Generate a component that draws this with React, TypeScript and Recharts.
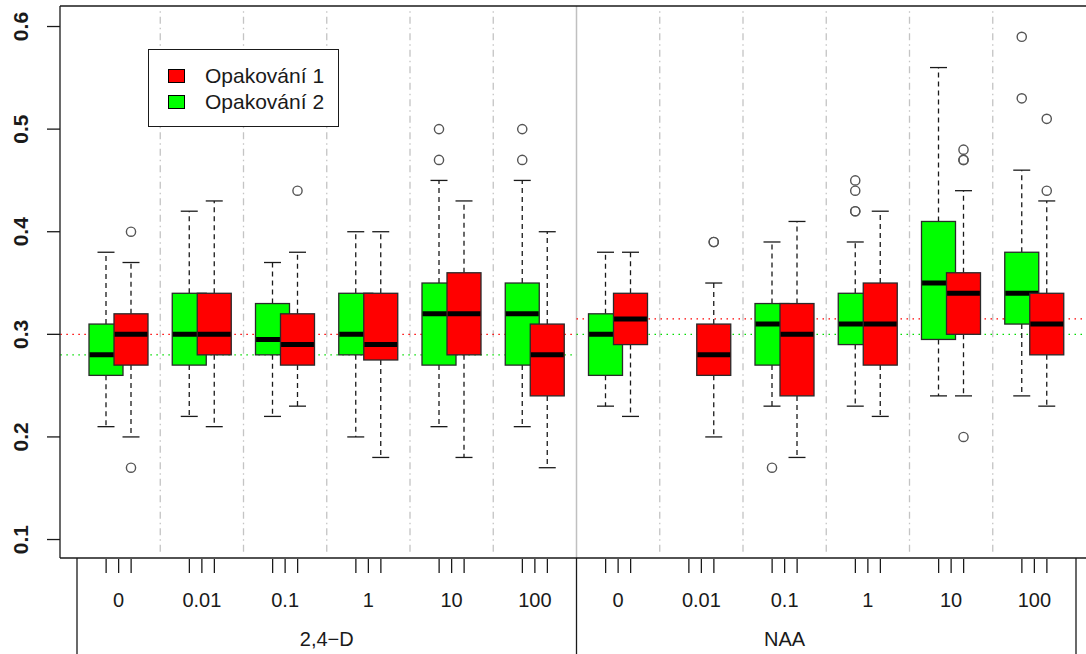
import { ComposedChart, Bar, XAxis, YAxis, ReferenceLine, Legend } from 'recharts'

const CONCENTRATIONS = ['0', '0.01', '0.1', '1', '10', '100']
const TREATMENTS = ['2,4−D', 'NAA']
const Y_TICKS = [0.1, 0.2, 0.3, 0.4, 0.5, 0.6]

// Opakování 2 (green), null = no measurements
const REP2_LOW = [0.21, 0.22, 0.22, 0.2, 0.21, 0.21, 0.23, null, 0.23, 0.23, 0.24, 0.24]
const REP2_Q1 = [0.26, 0.27, 0.28, 0.28, 0.27, 0.27, 0.26, null, 0.27, 0.29, 0.295, 0.31]
const REP2_MED = [0.28, 0.3, 0.295, 0.3, 0.32, 0.32, 0.3, null, 0.31, 0.31, 0.35, 0.34]
const REP2_Q3 = [0.31, 0.34, 0.33, 0.34, 0.35, 0.35, 0.32, null, 0.33, 0.34, 0.41, 0.38]
const REP2_HIGH = [0.38, 0.42, 0.37, 0.4, 0.45, 0.45, 0.38, null, 0.39, 0.39, 0.56, 0.46]
const REP2_OUT = [[], [], [], [], [0.5, 0.47], [0.5, 0.47], [], [], [0.17], [0.45, 0.44, 0.42, 0.42], [], [0.59, 0.53]]

// Opakování 1 (red)
const REP1_LOW = [0.2, 0.21, 0.23, 0.18, 0.18, 0.17, 0.22, 0.2, 0.18, 0.22, 0.24, 0.23]
const REP1_Q1 = [0.27, 0.28, 0.27, 0.275, 0.28, 0.24, 0.29, 0.26, 0.24, 0.27, 0.3, 0.28]
const REP1_MED = [0.3, 0.3, 0.29, 0.29, 0.32, 0.28, 0.315, 0.28, 0.3, 0.31, 0.34, 0.31]
const REP1_Q3 = [0.32, 0.34, 0.32, 0.34, 0.36, 0.31, 0.34, 0.31, 0.33, 0.35, 0.36, 0.34]
const REP1_HIGH = [0.37, 0.43, 0.38, 0.4, 0.43, 0.4, 0.38, 0.35, 0.41, 0.42, 0.44, 0.43]
const REP1_OUT = [[0.4, 0.17], [], [0.44], [], [], [], [], [0.39, 0.39], [], [], [0.48, 0.47, 0.47, 0.2], [0.51, 0.44]]

const LEGEND_NAMES = ['Opakování 1', 'Opakování 2']
const LEGEND_COLORS = ['#ff0000', '#00ff00']

type Stats = { low: number; q1: number; med: number; q3: number; high: number; out: number[] }

const pick = (low: any[], q1: any[], med: any[], q3: any[], high: any[], out: number[][], i: number): Stats | null =>
  low[i] == null ? null : { low: low[i], q1: q1[i], med: med[i], q3: q3[i], high: high[i], out: out[i] }

const rows = TREATMENTS.flatMap((t, ti) =>
  CONCENTRATIONS.map((c, ci) => {
    const i = ti * CONCENTRATIONS.length + ci
    return {
      id: `${t} ${c}`,
      pos: i + 0.5,
      rep2: pick(REP2_LOW, REP2_Q1, REP2_MED, REP2_Q3, REP2_HIGH, REP2_OUT, i),
      rep1: pick(REP1_LOW, REP1_Q1, REP1_MED, REP1_Q3, REP1_HIGH, REP1_OUT, i),
    }
  })
)

const extent = (s: Stats) => [Math.min(s.low, ...s.out), Math.max(s.high, ...s.out)]

// layout
const FONT = '"Liberation Sans", Arial, sans-serif'
const INK = '#1a1a1a'
const BAR_SIZE = 34
const BAR_GAP = -9
const SIDE = (BAR_SIZE + BAR_GAP) / 2
const Y_DOMAIN = [0.082, 0.62]
const DIVIDER_Y = [0.088, 0.616]
const GROUP_LABEL_POS = [3, 8.5]
const AXIS_H = 96
const N = rows.length
const PER = CONCENTRATIONS.length
const PAD = { left: 17, right: 10 }

function boxShape(key: 'rep1' | 'rep2', fill: string) {
  return (props: any) => {
    const s: Stats | null = props.payload?.[key]
    if (!s || !isFinite(props.y) || !isFinite(props.height)) return <g />
    const [lo, hi] = extent(s)
    const top = Math.min(props.y, props.y + props.height)
    const bottom = Math.max(props.y, props.y + props.height)
    const py = (v: number) => bottom - ((v - lo) / (hi - lo)) * (bottom - top)
    const x = props.x
    const w = props.width
    const cx = x + w / 2
    const cap = w / 4
    return (
      <g>
        <line x1={cx} x2={cx} y1={py(s.q3)} y2={py(s.high)} stroke={INK} strokeWidth={1.3} strokeDasharray="5 4" />
        <line x1={cx} x2={cx} y1={py(s.q1)} y2={py(s.low)} stroke={INK} strokeWidth={1.3} strokeDasharray="5 4" />
        <line x1={cx - cap} x2={cx + cap} y1={py(s.high)} y2={py(s.high)} stroke={INK} strokeWidth={1.3} />
        <line x1={cx - cap} x2={cx + cap} y1={py(s.low)} y2={py(s.low)} stroke={INK} strokeWidth={1.3} />
        <rect x={x} y={py(s.q3)} width={w} height={py(s.q1) - py(s.q3)} fill={fill} stroke="#2a2a2a" strokeWidth={1.3} />
        <line x1={x + 0.6} x2={x + w - 0.6} y1={py(s.med)} y2={py(s.med)} stroke="#000" strokeWidth={5} />
        {s.out.map((v, k) => (
          <circle key={k} cx={cx} cy={py(v)} r={4.6} fill="none" stroke="#555" strokeWidth={1.4} />
        ))}
      </g>
    )
  }
}

function YTick({ x, y, payload }: any) {
  const bx = x - 17
  return (
    <text x={bx} y={y} transform={`rotate(-90 ${bx} ${y})`} textAnchor="middle" fontSize={21} fontWeight="bold" fill={INK} fontFamily={FONT}>
      {Number(payload.value).toFixed(1)}
    </text>
  )
}

function BottomTick({ x, y, payload }: any) {
  const v = payload.value
  const parts: any[] = []
  if (v % PER === 0) {
    parts.push(<line key="sep" x1={x} x2={x} y1={y} y2={y + AXIS_H} stroke={INK} strokeWidth={1.3} />)
  }
  const idx = v - 0.5
  if (Number.isInteger(idx) && idx >= 0 && idx < N) {
    ;[-SIDE, 0, SIDE].forEach((d, k) =>
      parts.push(<line key={`t${k}`} x1={x + d} x2={x + d} y1={y + 1} y2={y + 15} stroke={INK} strokeWidth={1.3} />)
    )
    parts.push(
      <text key="lab" x={x} y={y + 49} textAnchor="middle" fontSize={20} fill={INK} fontFamily={FONT}>
        {CONCENTRATIONS[idx % PER]}
      </text>
    )
  }
  const g = GROUP_LABEL_POS.indexOf(v)
  if (g >= 0) {
    parts.push(
      <text key="grp" x={x} y={y + 88} textAnchor="middle" fontSize={20} fill={INK} fontFamily={FONT}>
        {TREATMENTS[g]}
      </text>
    )
  }
  return <g>{parts}</g>
}

function LegendBox() {
  return (
    <div style={{ position: 'relative', width: 189, height: 76, border: `1.3px solid ${INK}`, background: '#fff', fontFamily: FONT }}>
      {LEGEND_NAMES.map((name, i) => (
        <div key={name} style={{ position: 'absolute', left: 19, top: 13 + i * 26, height: 26, display: 'flex', alignItems: 'center' }}>
          <span style={{ display: 'inline-block', width: 15, height: 12, background: LEGEND_COLORS[i], border: '1px solid #000' }} />
          <span style={{ marginLeft: 20, fontSize: 21, color: INK, lineHeight: '26px', whiteSpace: 'nowrap' }}>{name}</span>
        </div>
      ))}
    </div>
  )
}

export default function App() {
  const bottomTicks = Array.from(
    new Set([...rows.map((r) => r.pos), ...TREATMENTS.map((_, t) => t * PER), N, ...GROUP_LABEL_POS])
  ).sort((a, b) => a - b)
  const dividers = rows.map((_, i) => i).filter((i) => i > 0 && i % PER !== 0)

  return (
    <div style={{ position: 'absolute', left: 0, top: 0, width: 1086, height: 654, background: '#fff', fontFamily: FONT }}>
      <ComposedChart width={1086} height={654} data={rows} margin={{ top: 6, right: 0, bottom: 0, left: 0 }} barGap={BAR_GAP} barSize={BAR_SIZE}>
        <XAxis xAxisId="cat" dataKey="id" type="category" hide height={0} padding={PAD} />
        <XAxis
          xAxisId="edge"
          dataKey="pos"
          type="number"
          domain={[0, N]}
          ticks={bottomTicks}
          interval={0}
          padding={PAD}
          height={AXIS_H}
          tickSize={0}
          tickMargin={0}
          tickLine={false}
          axisLine={{ stroke: INK, strokeWidth: 1.3 }}
          tick={<BottomTick />}
          allowDataOverflow
        />
        <YAxis
          domain={Y_DOMAIN}
          ticks={Y_TICKS}
          allowDataOverflow
          width={60}
          tickSize={13}
          tickLine={{ stroke: INK, strokeWidth: 1.3 }}
          axisLine={{ stroke: INK, strokeWidth: 1.3 }}
          tick={<YTick />}
          interval={0}
        />

        {dividers.map((k) => (
          <ReferenceLine
            key={`d${k}`}
            xAxisId="edge"
            zIndex={-10}
            segment={[{ x: k, y: DIVIDER_Y[0] }, { x: k, y: DIVIDER_Y[1] }]}
            stroke="#c4c4c4"
            strokeWidth={1.3}
            strokeDasharray="7 4 1.5 4"
          />
        ))}
        <ReferenceLine xAxisId="edge" zIndex={-10} x={PER} stroke="#c0c0c0" strokeWidth={1.5} />

        {TREATMENTS.map((t, ti) => {
          const x0 = ti === 0 ? -0.2 : ti * PER
          const x1 = ti === TREATMENTS.length - 1 ? N + 0.2 : (ti + 1) * PER
          return [
            <ReferenceLine
              key={`r${t}`}
              xAxisId="edge"
              zIndex={-10}
              ifOverflow="visible"
              segment={[{ x: x0, y: REP1_MED[ti * PER] }, { x: x1, y: REP1_MED[ti * PER] }]}
              stroke="#ff0000"
              strokeWidth={1.3}
              strokeDasharray="1.5 4.5"
            />,
            <ReferenceLine
              key={`g${t}`}
              xAxisId="edge"
              zIndex={-10}
              ifOverflow="visible"
              segment={[{ x: x0, y: REP2_MED[ti * PER] as number }, { x: x1, y: REP2_MED[ti * PER] as number }]}
              stroke="#00dd00"
              strokeWidth={1.3}
              strokeDasharray="1.5 4.5"
            />,
          ]
        })}
        <ReferenceLine xAxisId="edge" y={Y_DOMAIN[1]} stroke={INK} strokeWidth={1.3} />

        <Bar
          xAxisId="cat"
          name="Opakování 2"
          dataKey={(r: any) => (r.rep2 ? extent(r.rep2) : null)}
          fill="#00ff00"
          barSize={BAR_SIZE}
          shape={boxShape('rep2', '#00ff00')}
          isAnimationActive={false}
        />
        <Bar
          xAxisId="cat"
          name="Opakování 1"
          dataKey={(r: any) => (r.rep1 ? extent(r.rep1) : null)}
          fill="#ff0000"
          barSize={BAR_SIZE}
          shape={boxShape('rep1', '#ff0000')}
          isAnimationActive={false}
        />

        <Legend
          layout="horizontal"
          verticalAlign="middle"
          align="center"
          content={() => <LegendBox />}
          wrapperStyle={{ left: 148, top: 49, width: 'auto', height: 'auto' }}
        />
      </ComposedChart>
    </div>
  )
}
